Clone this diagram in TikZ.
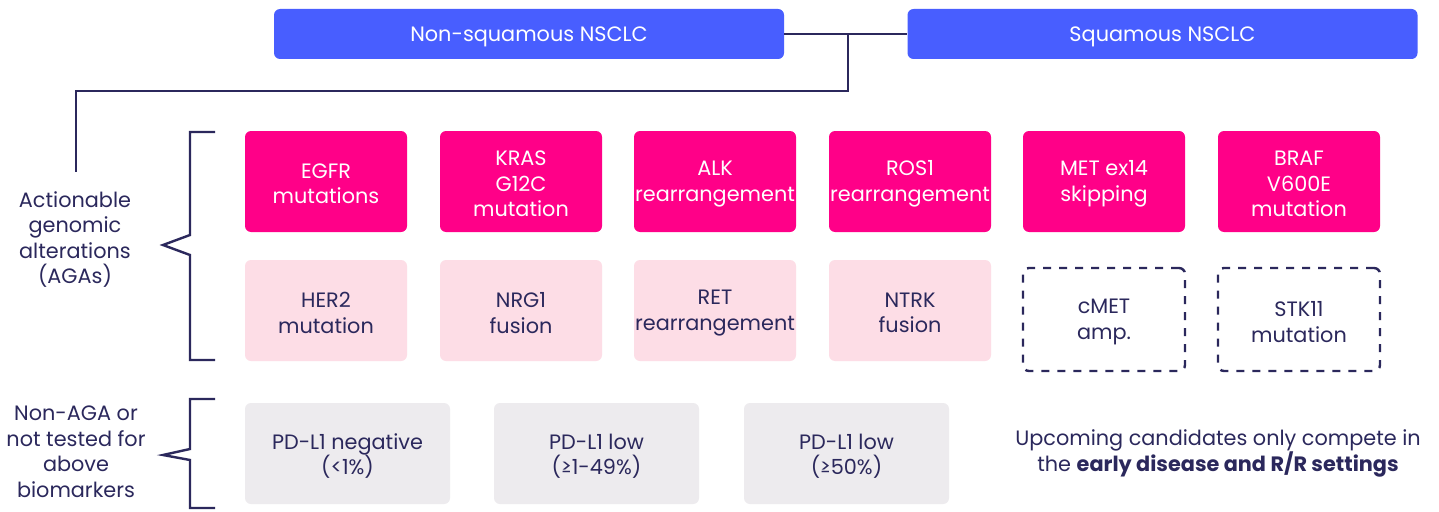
\documentclass[tikz,border=0pt]{standalone}
\usepackage{fontspec}
\setmainfont{Poppins}
\definecolor{hblue}{RGB}{72,94,255}
\definecolor{mag}{RGB}{255,0,136}
\definecolor{lpink}{RGB}{253,221,230}
\definecolor{lgray}{RGB}{237,235,238}
\definecolor{navy}{RGB}{43,40,92}
\tikzset{
  base/.style={rectangle, rounded corners=6pt, inner sep=0pt},
  hdr/.style={base, fill=hblue, minimum width=510pt, minimum height=50pt},
  aga/.style={base, fill=mag, minimum width=162pt, minimum height=101pt},
  agb/.style={base, fill=lpink, minimum width=162pt, minimum height=101pt},
  dbox/.style={base, draw=navy, line width=2.4pt, dash pattern=on 8pt off 8pt,
    minimum width=162pt, minimum height=103pt},
  pdbox/.style={base, fill=lgray, minimum width=205pt, minimum height=101pt},
  txt/.style={align=center, inner sep=0pt, yshift=-2.5pt, font=\fontsize{20.8}{25.5}\selectfont},
  wtxt/.style={txt, text=white},
  ntxt/.style={txt, text=navy},
  conn/.style={draw=navy, line width=2.4pt},
}
% box with its text: style, name, position, text style, text
\newcommand\bx[5]{\node[#1] (#2) at (#3) {}; \node[#4] (#2-t) at (#2.center) {#5};}
\begin{document}
\begin{tikzpicture}[x=1pt,y=-1pt]
\fill[white] (0,0) rectangle (1439,511);
\useasboundingbox (0,0) rectangle (1439,511);
% headers
\bx{hdr}{ns}{529,34}{wtxt}{Non-squamous NSCLC}
\bx{hdr}{sq}{1162.5,34}{wtxt}{Squamous NSCLC}
\coordinate (j) at (848,34);
\coordinate (bend) at (848,91);
\coordinate (lend) at (76,172);
\draw[conn] (ns.east) -- (sq.west);
\draw[conn] (j) -- (bend) -| (lend);
% row 1
\bx{aga}{egfr}{326,181.5}{wtxt}{EGFR\\mutations}
\bx{aga}{kras}{521,181.5}{wtxt}{KRAS\\G12C\\mutation}
\bx{aga}{alk}{715,181.5}{wtxt}{ALK\\rearrangement}
\bx{aga}{ros}{910,181.5}{wtxt}{ROS1\\rearrangement}
\bx{aga}{met}{1104,181.5}{wtxt}{MET ex14\\skipping}
\bx{aga}{braf}{1299,181.5}{wtxt}{BRAF\\V600E\\mutation}
% row 2
\bx{agb}{her2}{326,310.5}{ntxt}{HER2\\mutation}
\bx{agb}{nrg1}{521,310.5}{ntxt}{NRG1\\fusion}
\bx{agb}{ret}{715,310.5}{ntxt}{RET\\rearrangement}
\bx{agb}{ntrk}{910,310.5}{ntxt}{NTRK\\fusion}
\bx{dbox}{cmet}{1104,319.5}{ntxt}{cMET\\amp.}
\bx{dbox}{stk}{1299,319.5}{ntxt}{STK11\\mutation}
% row 3
\bx{pdbox}{pdneg}{347.5,453.5}{ntxt}{PD-L1 negative\\(<1\%)}
\bx{pdbox}{pdlow}{596.5,453.5}{ntxt}{PD-L1 low\\(≥1-49\%)}
\bx{pdbox}{pdhigh}{846.5,453.5}{ntxt}{PD-L1 low\\(≥50\%)}
% left labels
\node[ntxt] (aga) at (75,237) {Actionable\\genomic\\alterations\\(AGAs)};
\node[ntxt] (nonaga) at (76,449.5) {Non-AGA or\\not tested for\\above\\biomarkers};
\node[ntxt] (up) at (1218,451) {Upcoming candidates only compete in\\the \textbf{early disease and R/R settings}};
% braces
\draw[conn, line join=miter] (215,132) -- (190,132) -- (190,235) -- (163,245) -- (190,255) -- (190,360) -- (215,360);
\draw[conn, line join=miter] (215,399) -- (190,399) -- (190,449) -- (163,455) -- (190,460) -- (190,508) -- (215,508);
\end{tikzpicture}
\end{document}
